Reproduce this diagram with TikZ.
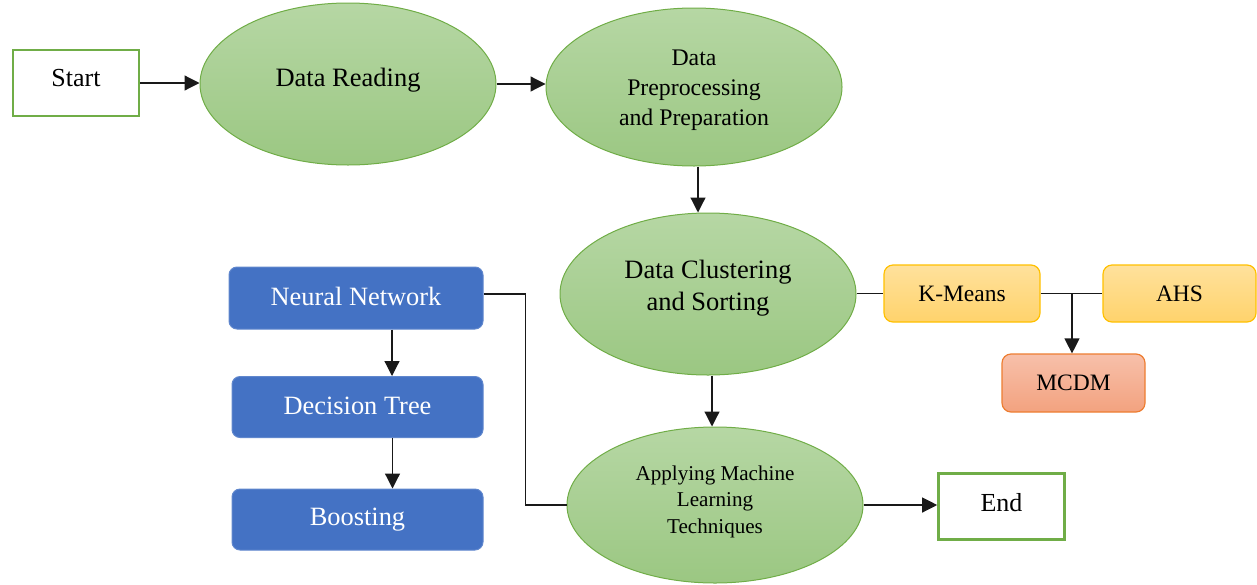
\documentclass[tikz,border=0pt]{standalone}
\usepackage{fontspec}
\setmainfont{Liberation Serif}
\usetikzlibrary{shapes.geometric,arrows.meta,calc}
\definecolor{gtop}{HTML}{B6D7A4}
\definecolor{gbot}{HTML}{9BC782}
\definecolor{gline}{HTML}{70AD47}
\definecolor{bluefill}{HTML}{4472C4}
\definecolor{ytop}{HTML}{FFE19C}
\definecolor{ybot}{HTML}{FFD36C}
\definecolor{yline}{HTML}{FFC000}
\definecolor{otop}{HTML}{F7C0AA}
\definecolor{obot}{HTML}{F3A27F}
\definecolor{oline}{HTML}{ED7D31}
\tikzset{
  ell/.style={ellipse, draw=gline, line width=1pt, top color=gtop, bottom color=gbot, inner sep=0pt, align=center},
  etext/.style={inner sep=0pt, align=center},
  term/.style={rectangle, draw=gline, line width=2.6pt, fill=white, inner sep=0pt, minimum width=126pt, minimum height=66pt, font=\fontsize{26}{30}\selectfont},
  bluebox/.style={rectangle, rounded corners=8pt, fill=bluefill, draw=bluefill!85!white, line width=1pt, text=white, inner sep=0pt, minimum width=251pt, minimum height=61pt, font=\fontsize{26.4}{30}\selectfont},
  ybox/.style={rectangle, rounded corners=9pt, top color=ytop, bottom color=ybot, draw=yline, line width=1.2pt, inner sep=0pt, minimum height=57pt, font=\fontsize{23.5}{28}\selectfont},
  obox/.style={rectangle, rounded corners=9pt, top color=otop, bottom color=obot, draw=oline, line width=1.2pt, inner sep=0pt, minimum width=143pt, minimum height=58pt, font=\fontsize{23.5}{28}\selectfont},
  arr/.style={draw=black!90, line width=1.2pt, -{Triangle[length=15pt,width=15pt]}},
  ln/.style={draw=black!90, line width=1.2pt}
}
\begin{document}
\begin{tikzpicture}[x=1pt,y=-1pt]
\useasboundingbox (0,0) rectangle (1257,584);
\node[term] (start) at (76,83) {\raisebox{10pt}{Start}};
\node[ell, minimum width=296pt, minimum height=162pt, font=\fontsize{26.5}{32}\selectfont] (read) at (348,84) {\raisebox{13pt}{Data Reading}};
\node[ell, minimum width=296pt, minimum height=158pt] (prep) at (694,87) {};
\node[etext, font=\fontsize{23.8}{30}\selectfont] (prepT) at ([yshift=-3pt]prep.center) {Data\\Preprocessing\\and Preparation};
\node[ell, minimum width=296pt, minimum height=162pt] (clust) at (708,294) {};
\node[etext, font=\fontsize{26.5}{32}\selectfont] (clustT) at ([yshift=6pt]clust.center) {Data Clustering\\and Sorting};
\node[ell, minimum width=296pt, minimum height=156pt] (ml) at (715,505) {};
\node[etext, font=\fontsize{21.1}{26.5}\selectfont] (mlT) at ([yshift=3.5pt]ml.center) {Applying Machine\\Learning\\Techniques};
\node[term] (end) at (1001.5,506.5) {\raisebox{9pt}{End}};
\node[ybox, minimum width=156pt] (km) at (962,293.5) {K-Means};
\node[ybox, minimum width=153pt] (ahs) at (1179.5,293.5) {AHS};
\node[obox] (mcdm) at (1073.5,383) {MCDM};
\node[bluebox, minimum width=254pt, minimum height=62pt] (nn) at (356,298) {\raisebox{3pt}{Neural Network}};
\node[bluebox] (dt) at (357.5,407) {\raisebox{2pt}{Decision Tree}};
\node[bluebox] (bo) at (357.5,519.5) {\raisebox{0pt}{Boosting}};
% connectors
\draw[arr] (start.east) -- (start.east -| read.west);
\draw[arr] (read.east) -- (read.east -| prep.west);
\draw[arr] ([xshift=4pt]prep.south) -- ([xshift=4pt]prep.south |- clust.north);
\draw[arr] ([xshift=4pt]clust.south) -- ([xshift=4pt]clust.south |- ml.north);
\draw[ln] (clust.east |- km.west) -- (km.west);
\draw[ln] (km.east) -- (ahs.west);
\coordinate (j) at (1072,293.5);
\draw[arr] (j) -- (j |- mcdm.north);
\draw[ln] (nn.east |- clust.center) -- ++(42,0) |- (ml.west);
\draw[arr] ([xshift=36pt]nn.south) -- ([xshift=36pt]nn.south |- dt.north);
\draw[arr] ([xshift=35pt]dt.south) -- ([xshift=35pt]dt.south |- bo.north);
\draw[arr] (ml.east) -- (ml.east -| end.west);
\end{tikzpicture}
\end{document}
